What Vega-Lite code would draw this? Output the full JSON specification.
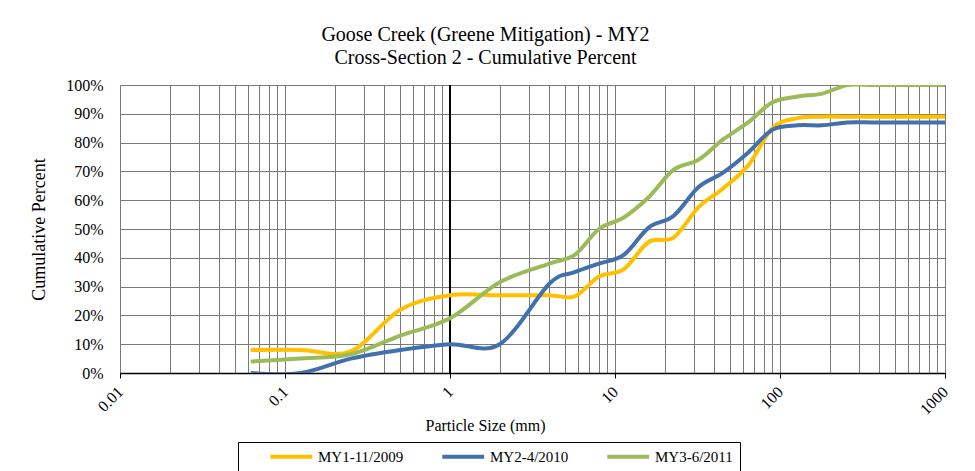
{
  "$schema": "https://vega.github.io/schema/vega-lite/v6.json",
  "width": 825,
  "height": 288,
  "autosize": {"type": "none"},
  "padding": {"left": 120, "top": 85, "right": 30, "bottom": 98},
  "background": "white",
  "config": {
    "view": {"stroke": "#868686", "strokeWidth": 1},
    "font": "Liberation Serif"
  },
  "title": {
    "text": ["Goose Creek (Greene Mitigation) - MY2", "Cross-Section 2 - Cumulative Percent"],
    "fontSize": 20,
    "font": "Liberation Serif",
    "fontWeight": "normal",
    "color": "black",
    "lineHeight": 23,
    "anchor": "middle",
    "dx": -47,
    "offset": 9
  },
  "data": {
    "values": [
      {"series": "MY1-11/2009", "size": 0.062, "pct": 8},
      {"series": "MY1-11/2009", "size": 0.125, "pct": 8},
      {"series": "MY1-11/2009", "size": 0.25, "pct": 7.5},
      {"series": "MY1-11/2009", "size": 0.5, "pct": 22},
      {"series": "MY1-11/2009", "size": 1, "pct": 27},
      {"series": "MY1-11/2009", "size": 2, "pct": 27},
      {"series": "MY1-11/2009", "size": 4, "pct": 27},
      {"series": "MY1-11/2009", "size": 5.7, "pct": 26.6},
      {"series": "MY1-11/2009", "size": 8, "pct": 33.5},
      {"series": "MY1-11/2009", "size": 11.3, "pct": 36},
      {"series": "MY1-11/2009", "size": 16, "pct": 45.5},
      {"series": "MY1-11/2009", "size": 22.6, "pct": 47},
      {"series": "MY1-11/2009", "size": 32, "pct": 57.5},
      {"series": "MY1-11/2009", "size": 45, "pct": 64},
      {"series": "MY1-11/2009", "size": 64, "pct": 72},
      {"series": "MY1-11/2009", "size": 90, "pct": 85},
      {"series": "MY1-11/2009", "size": 128, "pct": 88.5},
      {"series": "MY1-11/2009", "size": 180, "pct": 89},
      {"series": "MY1-11/2009", "size": 256, "pct": 89},
      {"series": "MY1-11/2009", "size": 362, "pct": 89},
      {"series": "MY1-11/2009", "size": 512, "pct": 89},
      {"series": "MY1-11/2009", "size": 1024, "pct": 89},
      {"series": "MY2-4/2010", "size": 0.062, "pct": 0},
      {"series": "MY2-4/2010", "size": 0.125, "pct": 0},
      {"series": "MY2-4/2010", "size": 0.25, "pct": 5},
      {"series": "MY2-4/2010", "size": 0.5, "pct": 8},
      {"series": "MY2-4/2010", "size": 1, "pct": 10},
      {"series": "MY2-4/2010", "size": 2, "pct": 10},
      {"series": "MY2-4/2010", "size": 4, "pct": 31},
      {"series": "MY2-4/2010", "size": 5.7, "pct": 35},
      {"series": "MY2-4/2010", "size": 8, "pct": 38},
      {"series": "MY2-4/2010", "size": 11.3, "pct": 41},
      {"series": "MY2-4/2010", "size": 16, "pct": 50.5},
      {"series": "MY2-4/2010", "size": 22.6, "pct": 54.5},
      {"series": "MY2-4/2010", "size": 32, "pct": 64.5},
      {"series": "MY2-4/2010", "size": 45, "pct": 69.5},
      {"series": "MY2-4/2010", "size": 64, "pct": 76.5},
      {"series": "MY2-4/2010", "size": 90, "pct": 84.5},
      {"series": "MY2-4/2010", "size": 128, "pct": 86},
      {"series": "MY2-4/2010", "size": 180, "pct": 86},
      {"series": "MY2-4/2010", "size": 256, "pct": 87},
      {"series": "MY2-4/2010", "size": 362, "pct": 87},
      {"series": "MY2-4/2010", "size": 512, "pct": 87},
      {"series": "MY2-4/2010", "size": 1024, "pct": 87},
      {"series": "MY3-6/2011", "size": 0.062, "pct": 4},
      {"series": "MY3-6/2011", "size": 0.125, "pct": 5},
      {"series": "MY3-6/2011", "size": 0.25, "pct": 6.5},
      {"series": "MY3-6/2011", "size": 0.5, "pct": 13},
      {"series": "MY3-6/2011", "size": 1, "pct": 19},
      {"series": "MY3-6/2011", "size": 2, "pct": 31.5},
      {"series": "MY3-6/2011", "size": 4, "pct": 38},
      {"series": "MY3-6/2011", "size": 5.7, "pct": 41},
      {"series": "MY3-6/2011", "size": 8, "pct": 50},
      {"series": "MY3-6/2011", "size": 11.3, "pct": 54},
      {"series": "MY3-6/2011", "size": 16, "pct": 61},
      {"series": "MY3-6/2011", "size": 22.6, "pct": 70.5},
      {"series": "MY3-6/2011", "size": 32, "pct": 74},
      {"series": "MY3-6/2011", "size": 45, "pct": 81},
      {"series": "MY3-6/2011", "size": 64, "pct": 87},
      {"series": "MY3-6/2011", "size": 90, "pct": 94},
      {"series": "MY3-6/2011", "size": 128, "pct": 96},
      {"series": "MY3-6/2011", "size": 180, "pct": 97},
      {"series": "MY3-6/2011", "size": 256, "pct": 100},
      {"series": "MY3-6/2011", "size": 362, "pct": 100},
      {"series": "MY3-6/2011", "size": 512, "pct": 100},
      {"series": "MY3-6/2011", "size": 1024, "pct": 100}
    ]
  },
  "layer": [
    {
      "mark": {"type": "rule", "color": "black", "strokeWidth": 1.2},
      "encoding": {"x": {"datum": 1, "type": "quantitative"}}
    },
    {
      "mark": {"type": "line", "interpolate": "cardinal", "strokeWidth": 4, "clip": true},
      "encoding": {
        "x": {
          "field": "size",
          "type": "quantitative",
          "scale": {"type": "log", "domain": [0.01, 1000], "nice": false},
          "axis": {
            "title": "Particle Size (mm)",
            "titleFont": "Liberation Serif",
            "titleFontSize": 16,
            "titleFontWeight": "normal",
            "titleColor": "black",
            "titleX": 365,
            "titleY": 52,
            "titleAnchor": "middle",
            "titleBaseline": "middle",
            "values": [0.01,0.02,0.03,0.04,0.05,0.06,0.07,0.08,0.09,0.1,0.2,0.3,0.4,0.5,0.6,0.7,0.8,0.9,1,2,3,4,5,6,7,8,9,10,20,30,40,50,60,70,80,90,100,200,300,400,500,600,700,800,900,1000],
            "labelExpr": "abs(log(datum.value)/LN10 - round(log(datum.value)/LN10)) < 0.001 ? format(datum.value, '~g') : ''",
            "labelAngle": -45,
            "labelAlign": "right",
            "labelBaseline": "middle",
            "labelFont": "Liberation Serif",
            "labelFontSize": 16,
            "labelColor": "black",
            "labelPadding": 11,
            "labelFlush": false,
            "labelOverlap": false,
            "ticks": true,
            "tickSize": 5,
            "tickColor": "black",
            "tickWidth": 1,
            "tickOpacity": {
              "condition": {"test": "abs(log(datum.value)/LN10 - round(log(datum.value)/LN10)) < 0.001", "value": 1},
              "value": 0
            },
            "grid": true,
            "gridColor": "#7a7a7a",
            "gridWidth": 1,
            "domainColor": "black",
            "domainWidth": 1.5
          }
        },
        "y": {
          "field": "pct",
          "type": "quantitative",
          "scale": {"domain": [0, 100], "nice": false},
          "axis": {
            "title": "Cumulative Percent",
            "titleFont": "Liberation Serif",
            "titleFontSize": 18,
            "titleFontWeight": "normal",
            "titleColor": "black",
            "titleX": -81,
            "titleY": 144,
            "titleAngle": -90,
            "titleAlign": "center",
            "titleBaseline": "middle",
            "values": [0,10,20,30,40,50,60,70,80,90,100],
            "labelExpr": "datum.value + '%'",
            "labelFont": "Liberation Serif",
            "labelFontSize": 16,
            "labelColor": "black",
            "labelPadding": 17,
            "labelFlush": false,
            "ticks": false,
            "grid": true,
            "gridColor": "#7a7a7a",
            "gridWidth": 1,
            "domain": false
          }
        },
        "color": {
          "field": "series",
          "type": "nominal",
          "scale": {
            "domain": ["MY1-11/2009", "MY2-4/2010", "MY3-6/2011"],
            "range": ["#FFC000", "#4170AC", "#9BBB59"]
          },
          "legend": {
            "orient": "none",
            "legendX": 118,
            "legendY": 357,
            "direction": "horizontal",
            "title": " ",
            "titleOrient": "left",
            "titlePadding": 22,
            "titleFontSize": 15,
            "symbolType": "M-1,0H9",
            "symbolSize": 70,
            "symbolStrokeWidth": 4,
            "labelOffset": 36,
            "labelFont": "Liberation Serif",
            "labelFontSize": 15,
            "labelColor": "black",
            "strokeColor": "black",
            "padding": 7,
            "columnPadding": 30
          }
        }
      }
    }
  ]
}
